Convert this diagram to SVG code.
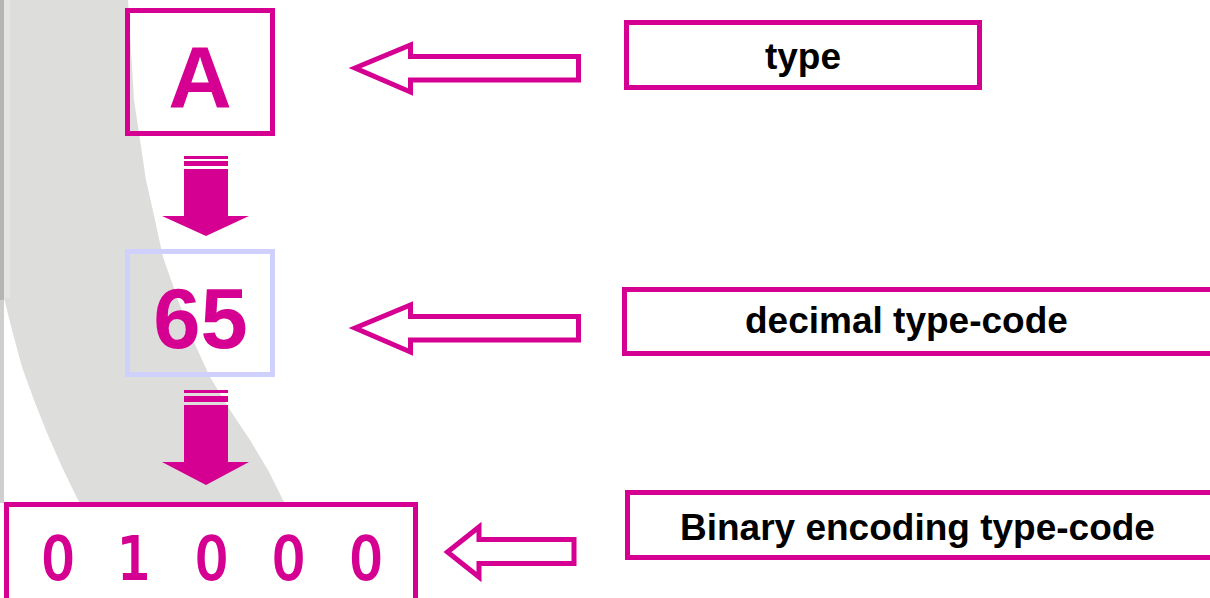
<svg xmlns="http://www.w3.org/2000/svg" width="1210" height="598" viewBox="0 0 1210 598">
<defs>
<style>
.mag{fill:none;stroke:#D50091;stroke-width:5}
.lav{fill:none;stroke:#D0D0FF;stroke-width:5}
.solid{fill:#D50091}
.big{font-family:"Liberation Sans",Arial,sans-serif;font-weight:bold;fill:#D50091;text-anchor:middle}
.lbl{font-family:"Liberation Sans",Arial,sans-serif;font-weight:bold;font-size:37px;fill:#000}
.mono{font-family:"DejaVu Sans Condensed","DejaVu Sans",sans-serif;font-stretch:condensed;font-weight:normal;font-size:58px;fill:#D50091;stroke:#D50091;stroke-width:2.2;text-anchor:middle}
</style>
</defs>
<rect width="1210" height="598" fill="#fff"/>
<g id="background">
<rect x="0" y="0" width="4" height="300" fill="#b5b5b5"/>
<rect x="0" y="300" width="4" height="203" fill="#cfcfcf"/>
<path d="M4,0 L128,0 L131,50 L134,100 L140,140 L146,180 L155,220 L163,257 L178,300 L193,340 L210,377 L230,410 L250,440 L268,470 L283,500 L285,503 L80,503 L78,500 L62,467 L47,433 L34,400 L22,367 L12,330 L4,298 Z" fill="#dddddb"/>
<rect x="4" y="0" width="6" height="298" fill="#e4e4e3"/>
</g>
<g id="connectors">
<g id="down-arrow-1" class="solid">
<rect x="184" y="156" width="44" height="3"/>
<rect x="184" y="161" width="44" height="5"/>
<path d="M184,169 L228,169 L228,216 L249,216 L206,236 L162,216 L184,216 Z"/>
</g>
<g id="down-arrow-2" class="solid">
<rect x="184" y="390" width="44" height="3"/>
<rect x="184" y="396" width="44" height="6"/>
<path d="M184,405 L228,405 L228,462 L249,462 L206,485 L162,462 L184,462 Z"/>
</g>
<path id="left-arrow-1" class="mag" d="M355,68 L410.5,45 L410.5,56.5 L578.5,56.5 L578.5,80 L410.5,80 L410.5,92 Z"/>
<path id="left-arrow-2" class="mag" d="M355,328 L410.5,305 L410.5,316.5 L578.5,316.5 L578.5,340 L410.5,340 L410.5,352 Z"/>
<path id="left-arrow-3" class="mag" d="M447.5,552 L479,527 L479,539.5 L574,539.5 L574,563.5 L479,563.5 L479,577 Z"/>
</g>
<g id="node-A">
<rect class="mag" x="127.5" y="10.5" width="145" height="123"/>
<text class="big" x="200" y="107" font-size="88">A</text>
</g>
<g id="node-65">
<rect class="lav" x="127.5" y="251.5" width="145" height="123"/>
<text class="big" x="200.5" y="348" font-size="85">65</text>
</g>
<g id="node-binary">
<rect class="mag" x="6.5" y="504.5" width="409" height="120" style="fill:#fff"/>
<text class="mono" x="58 96 134 173 211.5 250 288.5 327 366" y="579" xml:space="preserve">0 1 0 0 0</text>
</g>
<g id="node-type">
<rect class="mag" x="626.5" y="22.5" width="353" height="65"/>
<text class="lbl" x="803" y="69" text-anchor="middle">type</text>
</g>
<g id="node-decimal">
<rect class="mag" x="624.5" y="289.5" width="700" height="64"/>
<text class="lbl" x="745" y="333">decimal type-code</text>
</g>
<g id="node-binary-label">
<rect class="mag" x="627.5" y="492.5" width="700" height="65"/>
<text class="lbl" x="680" y="540">Binary encoding type-code</text>
</g>
</svg>
